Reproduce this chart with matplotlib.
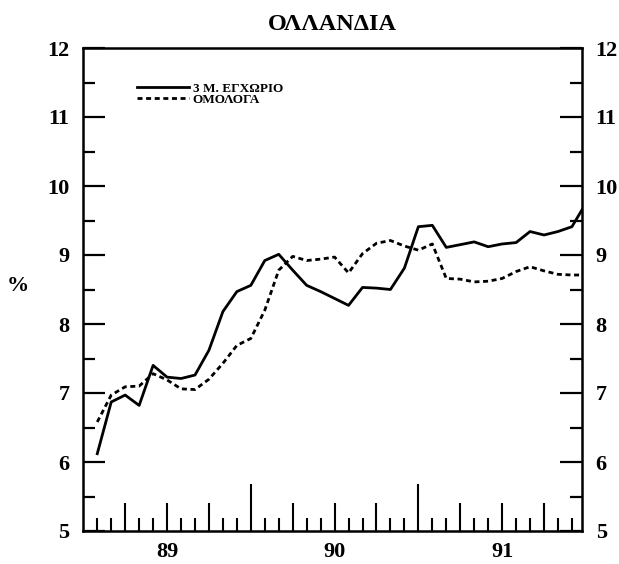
import matplotlib
matplotlib.use("Agg")
import matplotlib.pyplot as plt
from matplotlib.ticker import FixedLocator, FuncFormatter, MultipleLocator

plt.rcParams['font.family'] = ['Liberation Serif', 'DejaVu Serif']
plt.rcParams['font.weight'] = 'bold'
plt.rcParams['axes.titleweight'] = 'bold'
plt.rcParams['axes.labelweight'] = 'bold'

# months since start of 1989 (1 = end of Jan 89)
months = list(range(1, 37))

rate_3m = [6.12, 6.87, 6.97, 6.82, 7.40, 7.23, 7.21, 7.26, 7.62, 8.18, 8.47, 8.56,
           8.92, 9.01, 8.78, 8.56, 8.47, 8.37, 8.27, 8.53, 8.52, 8.50, 8.81, 9.41,
           9.43, 9.11, 9.15, 9.19, 9.12, 9.16, 9.18, 9.34, 9.29, 9.34, 9.41, 9.75]

bonds = [6.58, 6.97, 7.09, 7.10, 7.28, 7.19, 7.06, 7.05, 7.20, 7.43, 7.69, 7.79,
         8.20, 8.78, 8.98, 8.92, 8.94, 8.97, 8.74, 9.02, 9.17, 9.21, 9.13, 9.07,
         9.16, 8.66, 8.65, 8.61, 8.62, 8.66, 8.76, 8.83, 8.77, 8.72, 8.71, 8.71]

year_labels = {6: '89', 18: '90', 30: '91'}
year_marks = [12, 24]

title = 'ΟΛΛΑΝΔΙΑ'
label_3m = '3 Μ. ΕΓΧΩΡΙΟ'
label_bonds = 'ΟΜΟΛΟΓΑ'

fig = plt.figure(figsize=(6.19, 5.64), dpi=100)
ax = fig.add_axes([83.3 / 619, 1 - 531 / 564, 498.4 / 619, 483 / 564])

ax.plot(months, rate_3m, color='black', lw=2.0, label=label_3m)
ax.plot(months, bonds, color='black', lw=2.0, linestyle=(0, (1.8, 1.3)), label=label_bonds)

ax.set_xlim(0, 35.7)
ax.set_ylim(5, 12)

for side in ax.spines.values():
    side.set_linewidth(1.8)

# y axis: ticks on both sides, pointing in
ax.yaxis.set_major_locator(MultipleLocator(1))
ax.yaxis.set_minor_locator(MultipleLocator(0.5))
ax.tick_params(axis='y', which='major', direction='in', length=15.5, width=1.6,
               left=True, right=True, labelleft=True, labelright=True,
               pad=10, labelsize=16)
ax.tick_params(axis='y', which='minor', direction='in', length=8.4, width=1.6,
               left=True, right=True)

# x axis: monthly small ticks, quarterly medium ticks, year marks tall
ax.xaxis.set_major_locator(FixedLocator(list(range(3, 36, 3))))
ax.xaxis.set_minor_locator(FixedLocator(months[:-1]))
ax.xaxis.set_major_formatter(FuncFormatter(lambda v, p: year_labels.get(int(round(v)), '')))
ax.tick_params(axis='x', which='major', direction='in', length=20, width=1.5,
               top=False, pad=8, labelsize=16)
ax.tick_params(axis='x', which='minor', direction='in', length=9.4, width=1.5, top=False)
for loc, tick in zip(ax.xaxis.get_majorticklocs(), ax.xaxis.get_major_ticks()):
    if int(round(loc)) in year_marks:
        tick.tick1line.set_markersize(34)

ax.set_ylabel('%', rotation=0, fontsize=16, ha='center', va='center')
ax.yaxis.set_label_coords(-0.132, 0.507)

ax.set_title(title, fontsize=17.5, pad=13)

ax.legend(loc='upper left', bbox_to_anchor=(0.107, 0.928), frameon=False,
          fontsize=9.5, handlelength=4.0, handletextpad=0.25, labelspacing=-0.1,
          borderpad=0, borderaxespad=0)

fig.savefig('out.png', dpi=100)
